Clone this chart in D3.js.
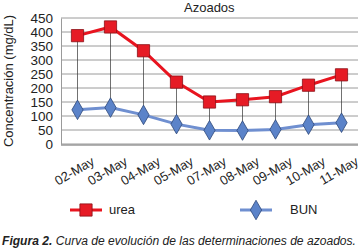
<!DOCTYPE html>
<html lang="es">
  <head>
    <script src="https://d3js.org/d3.v7.min.js"></script>
    <style>
      body { margin: 0; background: #fff; }
      text { font-family: "Liberation Sans", Arial, sans-serif; fill: #222; }
    </style>
  </head>
  <body>
    <script>
      const fechas = ['02-May', '03-May', '04-May', '05-May', '07-May', '08-May', '09-May', '10-May', '11-May'];
      const urea = [387, 418, 333, 221, 150, 158, 169, 210, 247];
      const bun = [122, 130, 104, 71, 49, 48, 52, 69, 76];
      const yTicks = [0, 50, 100, 150, 200, 250, 300, 350, 400, 450];

      const w = 360, h = 251;
      const mLeft = 61, mRight = 358, mTop = 18, mBottom = 144;

      const svg = d3.select('body').append('svg')
        .attr('width', w).attr('height', h);

      const x = d3.scaleBand().domain(fechas).range([mLeft, mRight]);
      const y = d3.scaleLinear().domain([0, 450]).range([mBottom, mTop]);
      const cx = d => x(d) + x.bandwidth() / 2;

      // grid
      svg.append('g').selectAll('line').data(yTicks).enter().append('line')
        .attr('x1', mLeft).attr('x2', mRight)
        .attr('y1', d => y(d)).attr('y2', d => y(d))
        .attr('stroke', '#9a9a9a').attr('stroke-width', 1);

      const yAxis = svg.append('g')
        .attr('transform', `translate(${mLeft},0)`)
        .call(d3.axisLeft(y).tickValues(yTicks).tickSize(0).tickPadding(8));
      yAxis.select('.domain').attr('stroke', '#9a9a9a');
      yAxis.selectAll('text').style('font-size', '13.5px').attr('fill', '#222');

      svg.append('line')
        .attr('x1', mLeft).attr('x2', mRight)
        .attr('y1', mBottom + 1).attr('y2', mBottom + 1)
        .attr('stroke', '#999').attr('stroke-width', 1.5);

      const xAxis = svg.append('g')
        .attr('transform', `translate(0,${mBottom})`)
        .call(d3.axisBottom(x).tickSize(0).tickPadding(0));
      xAxis.select('.domain').remove();
      xAxis.selectAll('text')
        .style('font-size', '13px')
        .attr('fill', '#222')
        .attr('text-anchor', 'end')
        .attr('dy', 0)
        .attr('transform', 'translate(18,20) rotate(-30)');

      // drop lines
      svg.append('g').selectAll('line').data(fechas).enter().append('line')
        .attr('x1', cx).attr('x2', cx)
        .attr('y1', (d, i) => y(urea[i])).attr('y2', (d, i) => y(bun[i]))
        .attr('stroke', '#333').attr('stroke-width', 0.7);

      const line = d3.line().x((d, i) => cx(fechas[i])).y(d => y(d));

      svg.append('path').datum(urea).attr('d', line)
        .attr('fill', 'none').attr('stroke', '#e8141f').attr('stroke-width', 3);
      svg.append('path').datum(bun).attr('d', line)
        .attr('fill', 'none').attr('stroke', '#6f8fd0').attr('stroke-width', 3);

      const sq = d3.symbol().type(d3.symbolSquare).size(150);
      const dia = d3.symbol().type(d3.symbolDiamond).size(110);

      svg.append('g').selectAll('path').data(urea).enter().append('path')
        .attr('d', sq)
        .attr('transform', (d, i) => `translate(${cx(fechas[i])},${y(d)})`)
        .attr('fill', '#e61b25').attr('stroke', '#8a1016').attr('stroke-width', 0.8);
      svg.append('g').selectAll('path').data(bun).enter().append('path')
        .attr('d', dia)
        .attr('transform', (d, i) => `translate(${cx(fechas[i])},${y(d)})`)
        .attr('fill', '#5b83c9').attr('stroke', '#2d4778').attr('stroke-width', 0.8);

      svg.append('text').attr('x', 184).attr('y', 12)
        .style('font-size', '13px').text('Azoados');

      svg.append('text')
        .attr('transform', 'translate(13,81) rotate(-90)')
        .attr('text-anchor', 'middle')
        .style('font-size', '13px')
        .text('Concentración (mg/dL)');

      // legend
      const lg = svg.append('g');
      lg.append('line').attr('x1', 70).attr('x2', 102).attr('y1', 210).attr('y2', 210)
        .attr('stroke', '#e8141f').attr('stroke-width', 3);
      lg.append('path').attr('d', sq).attr('transform', 'translate(86,210)')
        .attr('fill', '#e61b25').attr('stroke', '#8a1016').attr('stroke-width', 0.8);
      lg.append('text').attr('x', 109).attr('y', 214).style('font-size', '13px').text('urea');
      lg.append('line').attr('x1', 240).attr('x2', 272).attr('y1', 210).attr('y2', 210)
        .attr('stroke', '#6f8fd0').attr('stroke-width', 3);
      lg.append('path').attr('d', dia).attr('transform', 'translate(256,210)')
        .attr('fill', '#5b83c9').attr('stroke', '#2d4778').attr('stroke-width', 0.8);
      lg.append('text').attr('x', 290).attr('y', 214).style('font-size', '13px').text('BUN');

      const cap = svg.append('text').attr('x', 2).attr('y', 245)
        .style('font-size', '12px').style('font-style', 'italic')
        .attr('textLength', 354).attr('lengthAdjust', 'spacingAndGlyphs');
      cap.append('tspan').style('font-weight', 'bold').text('Figura 2.');
      cap.append('tspan').text(' Curva de evolución de las determinaciones de azoados.');
    </script>
  </body>
</html>
